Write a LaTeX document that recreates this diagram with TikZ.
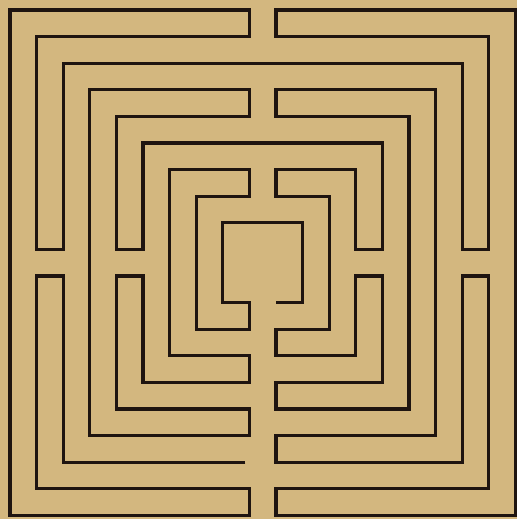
\documentclass[tikz,border=0pt]{standalone}
\usepackage{tikz}
\definecolor{paper}{RGB}{211,183,127}
\definecolor{ink}{RGB}{30,20,16}

\begin{document}
\begin{tikzpicture}[
        x=0.5cm, y=-0.5cm, % grid units, rows counted downward
        wall/.style={draw=ink, line width=1.7pt, line join=miter}
    ]

    % ==========================================
    % 0. Paper
    % ==========================================
    \fill[paper] (-0.376,-0.376) rectangle (19.06,19.135);
    \useasboundingbox (-0.376,-0.376) rectangle (19.06,19.135);

    % ==========================================
    % 1. The one wall, from its outer free end to the centre
    % ==========================================
    \draw[wall]
        % outer left rings
        (8.85,17) -- (2,17) -- (2,10) -- (1,10) -- (1,18) -- (9,18) -- (9,19)
        -- (0,19) -- (0,0) -- (9,0) -- (9,1) -- (1,1) -- (1,9) -- (2,9)
        -- (2,2) -- (17,2) -- (17,9) -- (18,9) -- (18,1) -- (10,1) -- (10,0)
        % outer right rings
        -- (19,0) -- (19,19) -- (10,19) -- (10,18) -- (18,18) -- (18,10)
        -- (17,10) -- (17,17) -- (10,17) -- (10,16) -- (16,16) -- (16,3)
        -- (10,3) -- (10,4) -- (15,4) -- (15,15) -- (10,15) -- (10,14)
        -- (14,14) -- (14,10) -- (13,10) -- (13,13) -- (10,13) -- (10,12)
        -- (12,12) -- (12,7) -- (10,7) -- (10,6) -- (13,6) -- (13,9) -- (14,9)
        % middle left rings
        -- (14,5) -- (5,5) -- (5,9) -- (4,9) -- (4,4) -- (9,4) -- (9,3)
        -- (3,3) -- (3,16) -- (9,16) -- (9,15) -- (4,15) -- (4,10) -- (5,10)
        -- (5,14) -- (9,14) -- (9,13) -- (6,13) -- (6,6) -- (9,6) -- (9,7)
        -- (7,7) -- (7,12) -- (9,12) -- (9,11)
        % centre
        -- (8,11) -- (8,8) -- (11,8) -- (11,11) -- (10,11);

\end{tikzpicture}
\end{document}
